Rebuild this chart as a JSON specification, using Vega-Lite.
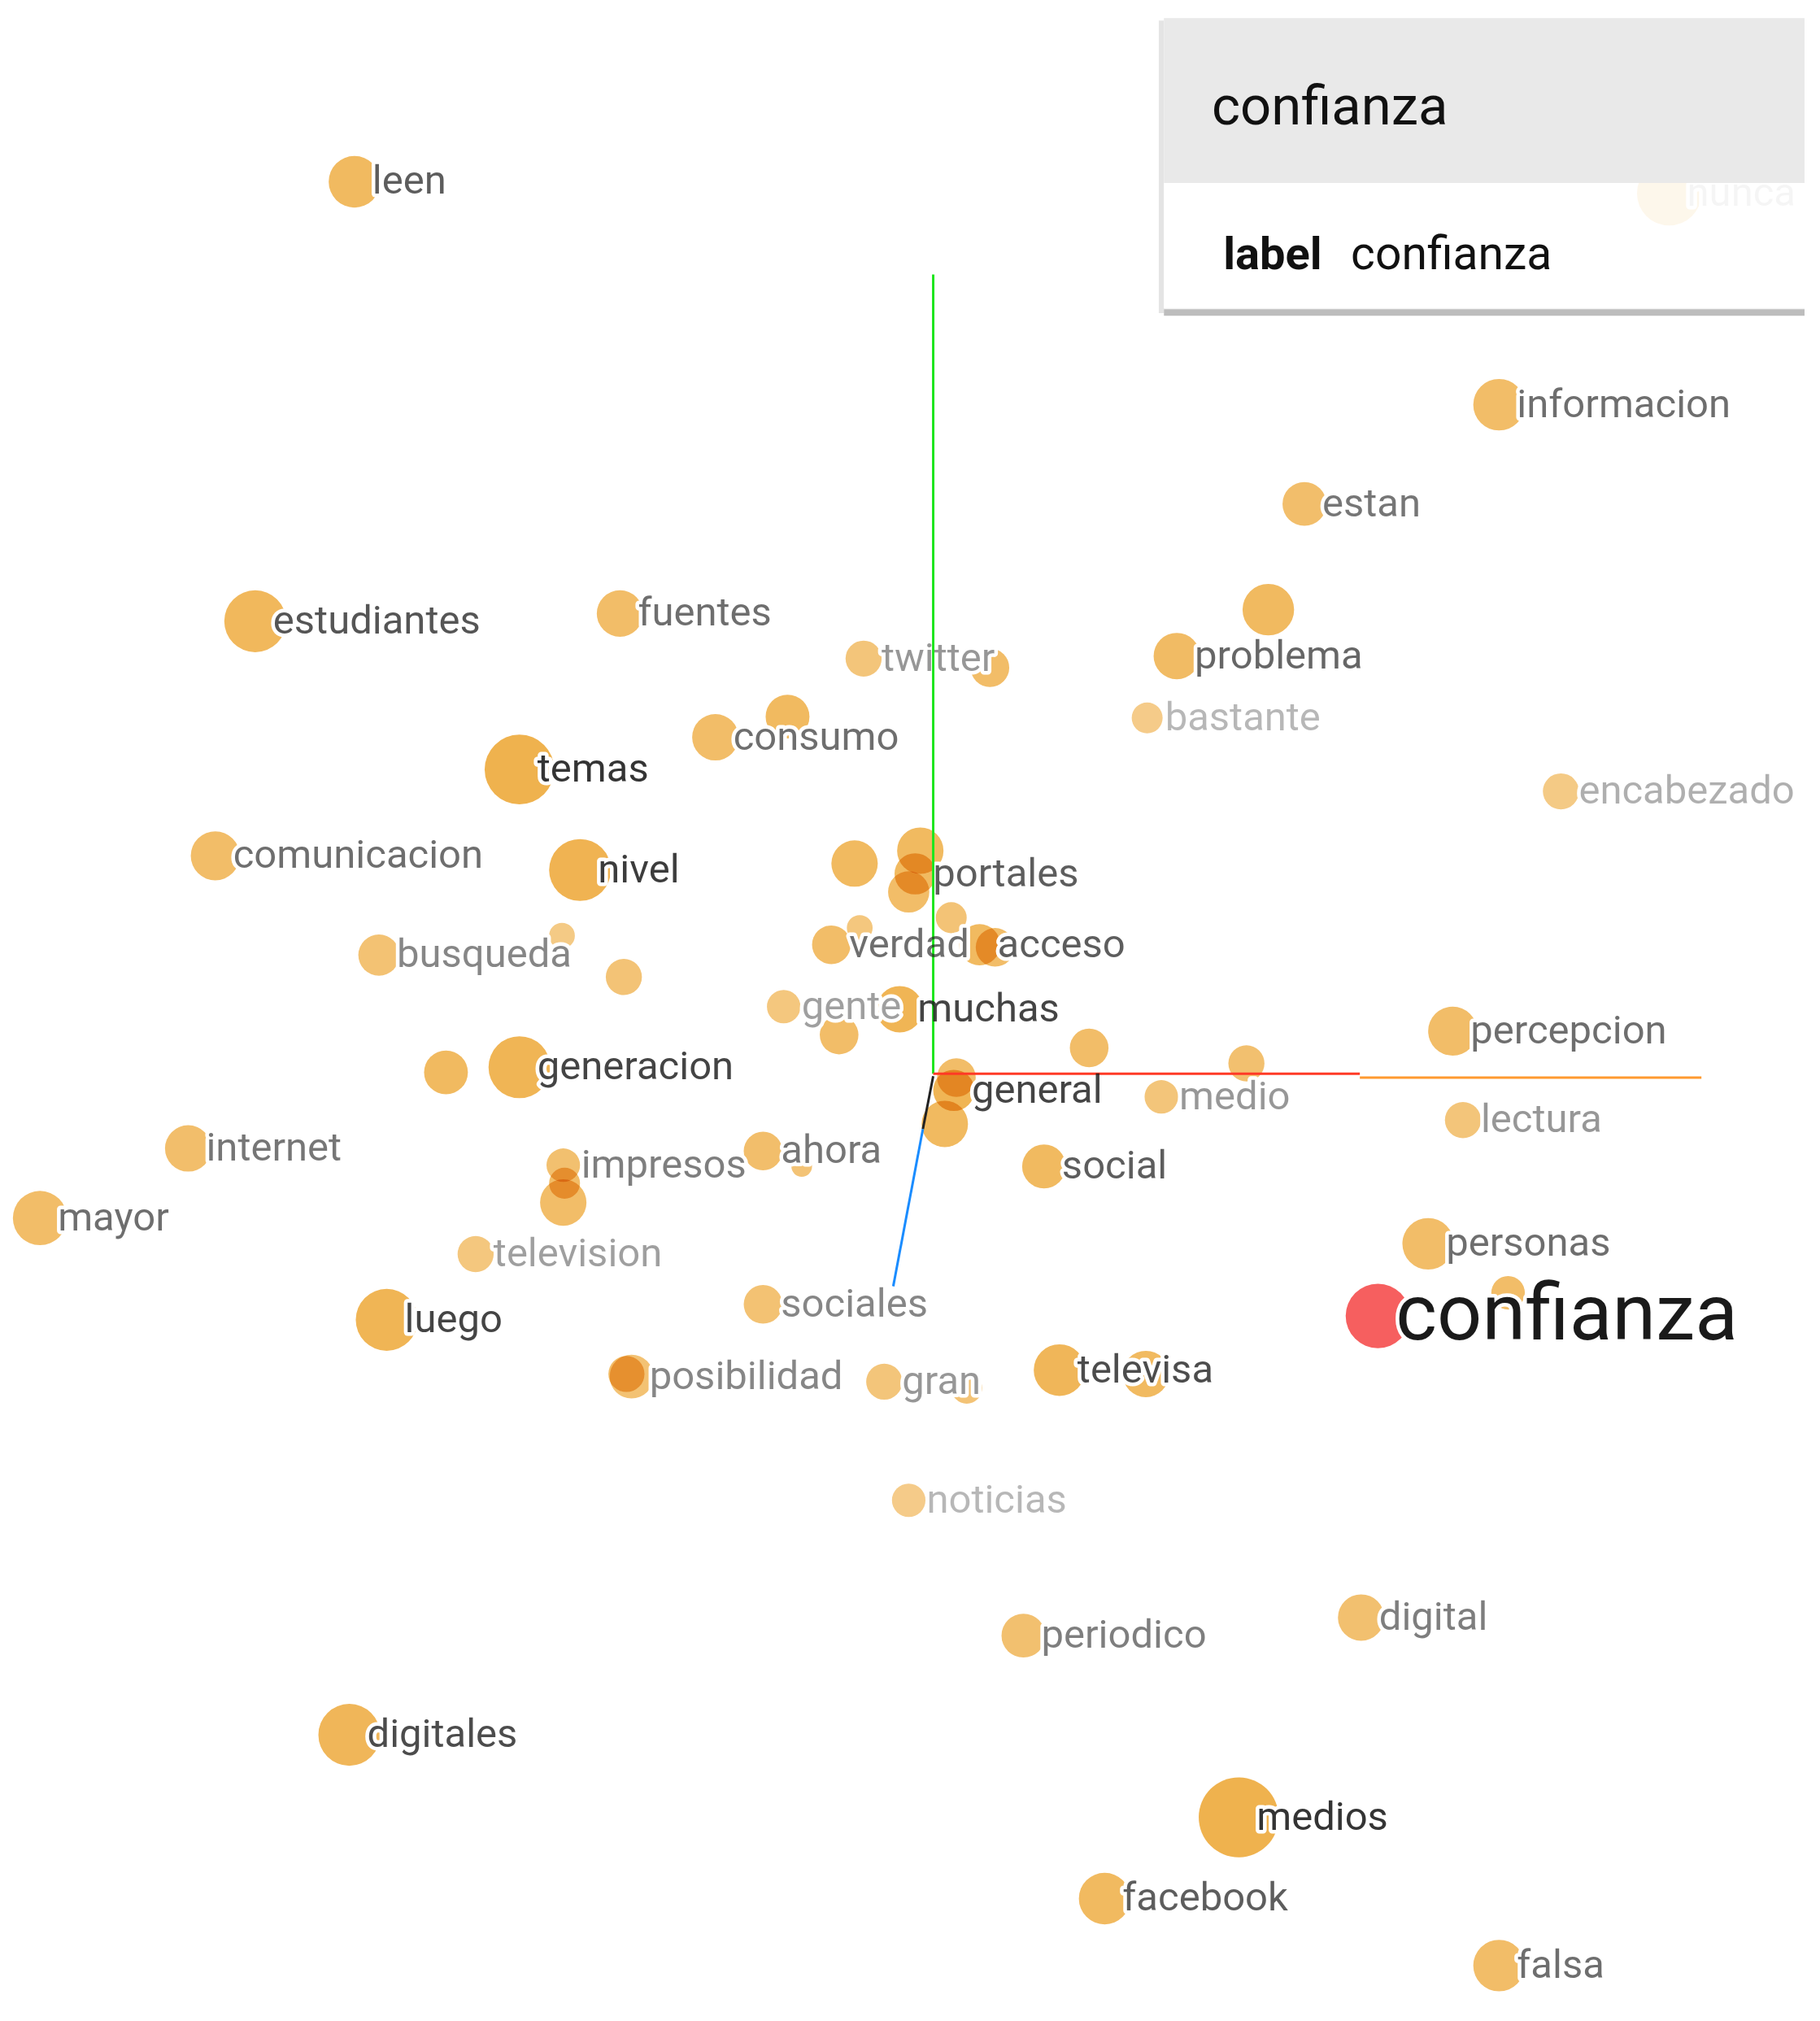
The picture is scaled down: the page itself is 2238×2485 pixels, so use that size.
{
  "$schema": "https://vega.github.io/schema/vega-lite/v6.json",
  "width": 2238,
  "height": 2485,
  "padding": 0,
  "autosize": {"type": "fit", "contains": "padding"},
  "background": "white",
  "config": {"view": {"stroke": null}, "axis": {"disable": true}},
  "datasets": {
    "points": [
      {"word": "leen", "px": 275, "py": 141, "mag": 20, "depth": 0.7},
      {"word": "estudiantes", "px": 198, "py": 482, "mag": 24, "depth": 0.75},
      {"word": "fuentes", "px": 481, "py": 476, "mag": 18, "depth": 0.6},
      {"word": "twitter", "px": 670, "py": 511, "mag": 14, "depth": 0.35},
      {"word": "consumo", "px": 555, "py": 572, "mag": 18, "depth": 0.6},
      {"word": "temas", "px": 403, "py": 597, "mag": 27, "depth": 0.95},
      {"word": "problema", "px": 913, "py": 509, "mag": 18, "depth": 0.65},
      {"word": "bastante", "px": 890, "py": 557, "mag": 12, "depth": 0.15},
      {"word": "informacion", "px": 1163, "py": 314, "mag": 20, "depth": 0.6},
      {"word": "estan", "px": 1012, "py": 391, "mag": 17, "depth": 0.55},
      {"word": "encabezado", "px": 1211, "py": 614, "mag": 14, "depth": 0.2},
      {"word": "nunca", "px": 1295, "py": 150, "mag": 25, "depth": 0.05},
      {"word": "comunicacion", "px": 167, "py": 664, "mag": 19, "depth": 0.6},
      {"word": "nivel", "px": 450, "py": 675, "mag": 24, "depth": 0.9},
      {"word": "portales", "px": 710, "py": 678, "mag": 16, "depth": 0.7},
      {"word": "busqueda", "px": 294, "py": 741, "mag": 16, "depth": 0.45},
      {"word": "verdad", "px": 645, "py": 733, "mag": 15, "depth": 0.6},
      {"word": "acceso", "px": 760, "py": 733, "mag": 16, "depth": 0.7},
      {"word": "gente", "px": 608, "py": 781, "mag": 13, "depth": 0.3},
      {"word": "muchas", "px": 698, "py": 783, "mag": 18, "depth": 0.85},
      {"word": "percepcion", "px": 1127, "py": 800, "mag": 19, "depth": 0.6},
      {"word": "generacion", "px": 403, "py": 828, "mag": 24, "depth": 0.85},
      {"word": "general", "px": 740, "py": 846, "mag": 16, "depth": 0.85},
      {"word": "medio", "px": 901, "py": 851, "mag": 13, "depth": 0.35},
      {"word": "lectura", "px": 1135, "py": 869, "mag": 14, "depth": 0.35},
      {"word": "internet", "px": 146, "py": 891, "mag": 18, "depth": 0.55},
      {"word": "impresos", "px": 437, "py": 904, "mag": 13, "depth": 0.5},
      {"word": "ahora", "px": 592, "py": 893, "mag": 15, "depth": 0.55},
      {"word": "social", "px": 810, "py": 905, "mag": 17, "depth": 0.7},
      {"word": "mayor", "px": 31, "py": 945, "mag": 21, "depth": 0.6},
      {"word": "television", "px": 369, "py": 973, "mag": 14, "depth": 0.3},
      {"word": "personas", "px": 1108, "py": 965, "mag": 20, "depth": 0.6},
      {"word": "sociales", "px": 592, "py": 1012, "mag": 15, "depth": 0.45},
      {"word": "luego", "px": 300, "py": 1024, "mag": 24, "depth": 0.85},
      {"word": "posibilidad", "px": 490, "py": 1068, "mag": 17, "depth": 0.45},
      {"word": "gran", "px": 686, "py": 1072, "mag": 14, "depth": 0.35},
      {"word": "televisa", "px": 822, "py": 1063, "mag": 20, "depth": 0.8},
      {"word": "noticias", "px": 705, "py": 1164, "mag": 13, "depth": 0.15},
      {"word": "periodico", "px": 794, "py": 1269, "mag": 17, "depth": 0.5},
      {"word": "digital", "px": 1056, "py": 1255, "mag": 18, "depth": 0.5},
      {"word": "digitales", "px": 271, "py": 1346, "mag": 24, "depth": 0.8},
      {"word": "medios", "px": 961, "py": 1410, "mag": 31, "depth": 0.95},
      {"word": "facebook", "px": 857, "py": 1473, "mag": 20, "depth": 0.7},
      {"word": "falsa", "px": 1163, "py": 1525, "mag": 20, "depth": 0.6},
      {"word": "", "px": 768, "py": 518, "mag": 15, "depth": 0.6},
      {"word": "", "px": 611, "py": 556, "mag": 17, "depth": 0.7},
      {"word": "", "px": 984, "py": 473, "mag": 20, "depth": 0.7},
      {"word": "", "px": 663, "py": 670, "mag": 18, "depth": 0.7},
      {"word": "", "px": 714, "py": 660, "mag": 18, "depth": 0.7},
      {"word": "", "px": 705, "py": 692, "mag": 16, "depth": 0.6},
      {"word": "", "px": 436, "py": 726, "mag": 10, "depth": 0.2},
      {"word": "", "px": 484, "py": 758, "mag": 14, "depth": 0.4},
      {"word": "", "px": 667, "py": 720, "mag": 10, "depth": 0.3},
      {"word": "", "px": 738, "py": 712, "mag": 12, "depth": 0.4},
      {"word": "", "px": 772, "py": 735, "mag": 15, "depth": 0.6},
      {"word": "", "px": 651, "py": 803, "mag": 15, "depth": 0.6},
      {"word": "", "px": 845, "py": 813, "mag": 15, "depth": 0.6},
      {"word": "", "px": 967, "py": 825, "mag": 14, "depth": 0.5},
      {"word": "", "px": 346, "py": 832, "mag": 17, "depth": 0.7},
      {"word": "", "px": 733, "py": 872, "mag": 18, "depth": 0.7},
      {"word": "", "px": 742, "py": 836, "mag": 15, "depth": 0.6},
      {"word": "", "px": 438, "py": 918, "mag": 12, "depth": 0.6},
      {"word": "", "px": 437, "py": 933, "mag": 18, "depth": 0.6},
      {"word": "", "px": 622, "py": 905, "mag": 8, "depth": 0.4},
      {"word": "", "px": 1170, "py": 1003, "mag": 13, "depth": 0.6},
      {"word": "", "px": 486, "py": 1066, "mag": 14, "depth": 0.6},
      {"word": "", "px": 750, "py": 1077, "mag": 12, "depth": 0.4},
      {"word": "", "px": 889, "py": 1066, "mag": 18, "depth": 0.7},
      {"word": "confianza", "px": 1069, "py": 1021, "mag": 25, "depth": 1, "sel": true}
    ],
    "axes3d": [
      {"seg": "y", "px": 724, "py": 213, "px2": 724, "py2": 833},
      {"seg": "x-near", "px": 724, "py": 833, "px2": 1055, "py2": 833},
      {"seg": "x-far", "px": 1055, "py": 836, "px2": 1320, "py2": 836},
      {"seg": "z-near", "px": 724, "py": 835, "px2": 716, "py2": 876},
      {"seg": "z-far", "px": 716, "py": 876, "px2": 693, "py2": 998}
    ],
    "card": [
      {"part": "shadow-left", "px": 899, "px2": 903, "py": 16, "py2": 243},
      {"part": "shadow-bottom", "px": 903, "px2": 1400, "py": 239, "py2": 245},
      {"part": "body", "px": 903, "px2": 1400, "py": 142, "py2": 240},
      {"part": "header", "px": 903, "px2": 1400, "py": 14, "py2": 142}
    ],
    "cardText": [
      {"kind": "title", "txt": "confianza", "px": 940, "py": 84},
      {"kind": "key", "txt": "label", "px": 949, "py": 198},
      {"kind": "value", "txt": "confianza", "px": 1048, "py": 198}
    ]
  },
  "layer": [
    {
      "data": {"name": "points"},
      "mark": {"type": "point", "shape": "circle", "filled": true, "blend": "multiply"},
      "encoding": {
        "x": {"field": "px", "type": "quantitative", "scale": {"domain": [0, 1412], "nice": false, "zero": false}, "axis": null},
        "y": {"field": "py", "type": "quantitative", "scale": {"domain": [0, 1568], "nice": false, "zero": false, "reverse": true}, "axis": null},
        "size": {"field": "mag", "type": "quantitative", "scale": {"type": "pow", "exponent": 2, "domain": [0, 30], "range": [0, 9044]}, "legend": null},
        "color": {"condition": {"test": "datum.sel", "value": "#f65f5f"}, "value": "#eeaa3c"},
        "opacity": {"condition": {"test": "datum.sel", "value": 1}, "field": "depth", "type": "quantitative", "scale": {"domain": [0, 1], "range": [0.55, 0.93]}, "legend": null}
      }
    },
    {
      "data": {"name": "points"},
      "transform": [{"filter": "datum.word != ''"}],
      "mark": {"type": "text", "align": "left", "baseline": "middle", "dx": 22, "font": "Roboto", "fill": "white", "stroke": "white", "strokeWidth": 9, "strokeJoin": "round"},
      "encoding": {
        "x": {"field": "px", "type": "quantitative"},
        "y": {"field": "py", "type": "quantitative"},
        "text": {"field": "word"},
        "size": {"condition": {"test": "datum.sel", "value": 97}, "value": 49}
      }
    },
    {
      "data": {"name": "axes3d"},
      "mark": {"type": "rule", "strokeWidth": 3},
      "encoding": {
        "x": {"field": "px", "type": "quantitative"},
        "y": {"field": "py", "type": "quantitative"},
        "x2": {"field": "px2"},
        "y2": {"field": "py2"},
        "color": {"field": "seg", "type": "nominal", "scale": {"domain": ["y", "x-near", "x-far", "z-near", "z-far"], "range": ["#1ee61e", "#ff3a26", "#ff9a30", "#222222", "#1a8cff"]}, "legend": null}
      }
    },
    {
      "data": {"name": "points"},
      "transform": [{"filter": "datum.word != ''"}],
      "mark": {"type": "text", "align": "left", "baseline": "middle", "dx": 22, "font": "Roboto", "fill": "#1a1a1a"},
      "encoding": {
        "x": {"field": "px", "type": "quantitative"},
        "y": {"field": "py", "type": "quantitative"},
        "text": {"field": "word"},
        "size": {"condition": {"test": "datum.sel", "value": 97}, "value": 49},
        "opacity": {"condition": {"test": "datum.sel", "value": 1}, "field": "depth", "type": "quantitative", "scale": {"domain": [0, 1], "range": [0.2, 0.92]}, "legend": null}
      }
    },
    {
      "data": {"name": "card"},
      "mark": {"type": "rect"},
      "encoding": {
        "x": {"field": "px", "type": "quantitative"},
        "x2": {"field": "px2"},
        "y": {"field": "py", "type": "quantitative"},
        "y2": {"field": "py2"},
        "fill": {"field": "part", "type": "nominal", "scale": {"domain": ["shadow-left", "shadow-bottom", "body", "header"], "range": ["#e4e4e4", "#bdbdbd", "#ffffff", "#e9e9e9"]}, "legend": null},
        "opacity": {"condition": {"test": "datum.part == 'body'", "value": 0.82}, "value": 1}
      }
    },
    {
      "data": {"name": "cardText"},
      "transform": [{"filter": "datum.kind != 'key'"}],
      "mark": {"type": "text", "align": "left", "baseline": "middle", "font": "Roboto", "fill": "#111111"},
      "encoding": {
        "x": {"field": "px", "type": "quantitative"},
        "y": {"field": "py", "type": "quantitative"},
        "text": {"field": "txt"},
        "size": {"condition": {"test": "datum.kind == 'title'", "value": 67}, "value": 57}
      }
    },
    {
      "data": {"name": "cardText"},
      "transform": [{"filter": "datum.kind == 'key'"}],
      "mark": {"type": "text", "align": "left", "baseline": "middle", "font": "Roboto", "fontWeight": "bold", "fill": "#111111", "fontSize": 56},
      "encoding": {
        "x": {"field": "px", "type": "quantitative"},
        "y": {"field": "py", "type": "quantitative"},
        "text": {"field": "txt"}
      }
    }
  ],
  "resolve": {"scale": {"opacity": "independent", "color": "independent", "fill": "independent", "size": "independent"}}
}
